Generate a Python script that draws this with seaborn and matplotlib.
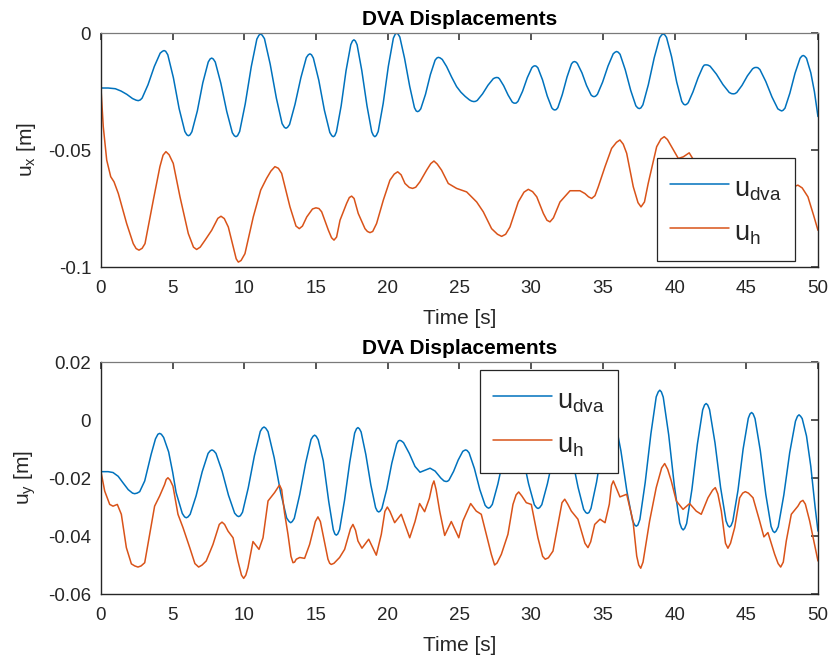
import numpy as np
import pandas as pd
import matplotlib
matplotlib.use("Agg")
import matplotlib.pyplot as plt
import seaborn as sns

# ---------------- data: (time [s], displacement [m]) ----------------
dva_x = [(0.00, -0.0235), (0.50, -0.0235), (1.00, -0.0238), (1.40, -0.0248), (1.80, -0.0262),
         (2.20, -0.0280), (2.45, -0.0287), (2.60, -0.0289), (2.74, -0.0286), (2.87, -0.0278),
         (3.28, -0.0221), (3.72, -0.0143), (4.13, -0.0086), (4.29, -0.0078), (4.40, -0.0075),
         (4.51, -0.0078), (4.66, -0.0093), (5.05, -0.0191), (5.45, -0.0323), (5.85, -0.0421),
         (5.99, -0.0435), (6.10, -0.0439), (6.21, -0.0435), (6.34, -0.0422), (6.72, -0.0333),
         (7.10, -0.0213), (7.48, -0.0124), (7.61, -0.0111), (7.72, -0.0107), (7.83, -0.0111),
         (7.97, -0.0124), (8.36, -0.0215), (8.77, -0.0335), (9.16, -0.0426), (9.30, -0.0439),
         (9.41, -0.0443), (9.52, -0.0439), (9.67, -0.0421), (10.06, -0.0303), (10.48, -0.0144),
         (10.87, -0.0026), (11.02, -0.0009), (11.13, -0.0004), (11.24, -0.0009), (11.40, -0.0024),
         (11.80, -0.0133), (12.23, -0.0278), (12.63, -0.0387), (12.79, -0.0403), (12.90, -0.0407),
         (13.01, -0.0403), (13.15, -0.0391), (13.53, -0.0305), (13.94, -0.0191), (14.32, -0.0105),
         (14.46, -0.0093), (14.57, -0.0089), (14.68, -0.0093), (14.81, -0.0107), (15.19, -0.0202),
         (15.58, -0.0330), (15.96, -0.0425), (16.10, -0.0439), (16.20, -0.0443), (16.30, -0.0439),
         (16.42, -0.0422), (16.75, -0.0311), (17.09, -0.0161), (17.42, -0.0050), (17.54, -0.0034),
         (17.64, -0.0029), (17.74, -0.0034), (17.86, -0.0050), (18.19, -0.0161), (18.55, -0.0311),
         (18.88, -0.0422), (19.00, -0.0438), (19.10, -0.0443), (19.20, -0.0438), (19.33, -0.0421),
         (19.68, -0.0301), (20.04, -0.0142), (20.39, -0.0022), (20.52, -0.0005), (20.62, 0.0000),
         (20.72, -0.0005), (20.84, -0.0017), (21.17, -0.0108), (21.53, -0.0228), (21.86, -0.0319),
         (21.98, -0.0333), (22.08, -0.0336), (22.18, -0.0333), (22.30, -0.0324), (22.63, -0.0262),
         (22.97, -0.0178), (23.30, -0.0116), (23.42, -0.0107), (23.52, -0.0104), (23.64, -0.0106),
         (23.80, -0.0113), (24.10, -0.0143), (24.45, -0.0188), (24.80, -0.0229), (25.10, -0.0253),
         (25.40, -0.0271), (25.70, -0.0286), (25.85, -0.0291), (26.00, -0.0293), (26.12, -0.0292),
         (26.24, -0.0288), (26.61, -0.0260), (26.99, -0.0223), (27.36, -0.0195), (27.50, -0.0191),
         (27.60, -0.0190), (27.70, -0.0191), (27.79, -0.0196), (28.08, -0.0225), (28.39, -0.0265),
         (28.68, -0.0295), (28.78, -0.0299), (28.87, -0.0300), (28.96, -0.0299), (29.08, -0.0292),
         (29.40, -0.0249), (29.73, -0.0191), (30.05, -0.0148), (30.16, -0.0142), (30.26, -0.0140),
         (30.36, -0.0142), (30.47, -0.0149), (30.79, -0.0200), (31.12, -0.0269), (31.44, -0.0320),
         (31.55, -0.0327), (31.65, -0.0329), (31.75, -0.0327), (31.86, -0.0319), (32.17, -0.0263),
         (32.50, -0.0188), (32.81, -0.0132), (32.92, -0.0124), (33.02, -0.0122), (33.12, -0.0124),
         (33.22, -0.0130), (33.54, -0.0170), (33.86, -0.0224), (34.18, -0.0265), (34.28, -0.0270),
         (34.38, -0.0272), (34.49, -0.0270), (34.62, -0.0262), (34.98, -0.0210), (35.36, -0.0141),
         (35.72, -0.0089), (35.85, -0.0082), (35.96, -0.0079), (36.07, -0.0082), (36.20, -0.0091),
         (36.56, -0.0157), (36.94, -0.0245), (37.30, -0.0311), (37.43, -0.0320), (37.54, -0.0323),
         (37.65, -0.0320), (37.79, -0.0307), (38.17, -0.0221), (38.58, -0.0106), (38.96, -0.0020),
         (39.10, -0.0008), (39.21, -0.0004), (39.32, -0.0008), (39.44, -0.0019), (39.79, -0.0101),
         (40.15, -0.0210), (40.50, -0.0292), (40.63, -0.0304), (40.73, -0.0307), (40.83, -0.0305),
         (40.95, -0.0298), (41.28, -0.0252), (41.64, -0.0191), (41.97, -0.0145), (42.07, -0.0137),
         (42.19, -0.0136), (42.32, -0.0137), (42.48, -0.0142), (42.92, -0.0176), (43.37, -0.0220),
         (43.81, -0.0254), (43.97, -0.0259), (44.10, -0.0260), (44.21, -0.0259), (44.34, -0.0254),
         (44.70, -0.0224), (45.08, -0.0183), (45.44, -0.0153), (45.57, -0.0148), (45.68, -0.0147),
         (45.80, -0.0148), (45.95, -0.0156), (46.36, -0.0207), (46.79, -0.0273), (47.20, -0.0324),
         (47.36, -0.0330), (47.47, -0.0333), (47.57, -0.0330), (47.70, -0.0321), (48.04, -0.0257),
         (48.40, -0.0172), (48.75, -0.0108), (48.87, -0.0099), (48.97, -0.0096), (49.07, -0.0099),
         (49.20, -0.0108), (49.50, -0.0170), (49.75, -0.0250), (50.00, -0.0357)]

h_x = [(0.00, -0.0236), (0.16, -0.0400), (0.40, -0.0543), (0.68, -0.0614), (0.91, -0.0636),
       (1.21, -0.0686), (1.79, -0.0814), (2.25, -0.0900), (2.45, -0.0921), (2.65, -0.0928),
       (2.87, -0.0920), (3.07, -0.0900), (3.65, -0.0714), (4.11, -0.0571), (4.33, -0.0522),
       (4.53, -0.0507), (4.75, -0.0520), (5.04, -0.0557), (5.51, -0.0700), (6.09, -0.0857),
       (6.45, -0.0915), (6.67, -0.0925), (6.92, -0.0915), (7.25, -0.0886), (7.72, -0.0843),
       (8.15, -0.0792), (8.37, -0.0783), (8.60, -0.0793), (8.88, -0.0829), (9.28, -0.0928),
       (9.43, -0.0965), (9.58, -0.0979), (9.77, -0.0972), (10.04, -0.0943), (10.62, -0.0786),
       (11.14, -0.0671), (11.55, -0.0621), (11.85, -0.0590), (12.13, -0.0571), (12.37, -0.0578),
       (12.60, -0.0600), (13.18, -0.0743), (13.60, -0.0825), (13.83, -0.0836), (14.05, -0.0825),
       (14.35, -0.0786), (14.75, -0.0752), (14.99, -0.0747), (15.20, -0.0750), (15.39, -0.0764),
       (15.86, -0.0843), (16.08, -0.0875), (16.25, -0.0885), (16.43, -0.0872), (16.67, -0.0800),
       (17.13, -0.0728), (17.32, -0.0703), (17.48, -0.0697), (17.65, -0.0707), (17.94, -0.0771),
       (18.41, -0.0836), (18.58, -0.0848), (18.76, -0.0853), (18.95, -0.0848), (19.22, -0.0814),
       (19.69, -0.0714), (20.15, -0.0629), (20.45, -0.0603), (20.69, -0.0593), (20.93, -0.0606),
       (21.20, -0.0643), (21.50, -0.0660), (21.73, -0.0664), (21.95, -0.0659), (22.24, -0.0636),
       (22.71, -0.0586), (23.00, -0.0558), (23.22, -0.0547), (23.45, -0.0560), (23.75, -0.0586),
       (24.22, -0.0643), (24.80, -0.0664), (25.50, -0.0679), (26.20, -0.0722), (26.66, -0.0764),
       (27.24, -0.0836), (27.65, -0.0860), (27.94, -0.0869), (28.22, -0.0860), (28.52, -0.0829),
       (29.10, -0.0722), (29.50, -0.0680), (29.80, -0.0668), (30.10, -0.0678), (30.39, -0.0700),
       (30.85, -0.0771), (31.10, -0.0800), (31.31, -0.0807), (31.55, -0.0790), (32.01, -0.0722),
       (32.71, -0.0674), (33.40, -0.0674), (33.75, -0.0686), (34.00, -0.0700), (34.22, -0.0707),
       (34.45, -0.0695), (34.68, -0.0657), (35.15, -0.0571), (35.61, -0.0493), (35.95, -0.0467),
       (36.19, -0.0457), (36.42, -0.0475), (36.66, -0.0514), (37.12, -0.0657), (37.45, -0.0725),
       (37.66, -0.0743), (37.90, -0.0722), (38.16, -0.0643), (38.75, -0.0486), (39.05, -0.0453),
       (39.28, -0.0443), (39.50, -0.0455), (39.79, -0.0486), (40.26, -0.0536), (40.61, -0.0529),
       (41.02, -0.0512), (41.50, -0.0560), (42.30, -0.0650), (43.20, -0.0720), (44.20, -0.0660),
       (45.20, -0.0700), (46.30, -0.0780), (47.30, -0.0720), (48.00, -0.0665), (48.60, -0.0650),
       (48.90, -0.0662), (49.30, -0.0700), (49.70, -0.0780), (50.00, -0.0843)]

dva_y = [(0.00, -0.0178), (0.50, -0.0178), (0.84, -0.0181), (1.20, -0.0194), (1.53, -0.0216),
         (1.90, -0.0240), (2.20, -0.0252), (2.35, -0.0254), (2.52, -0.0252), (2.70, -0.0247),
         (3.05, -0.0210), (3.50, -0.0118), (3.80, -0.0065), (3.97, -0.0049), (4.09, -0.0046),
         (4.21, -0.0049), (4.37, -0.0060), (4.72, -0.0110), (5.00, -0.0180), (5.24, -0.0250),
         (5.67, -0.0322), (5.83, -0.0334), (5.95, -0.0337), (6.07, -0.0334), (6.22, -0.0325),
         (6.63, -0.0262), (7.06, -0.0178), (7.47, -0.0115), (7.62, -0.0106), (7.74, -0.0103),
         (7.86, -0.0106), (8.02, -0.0115), (8.45, -0.0177), (8.89, -0.0259), (9.32, -0.0321),
         (9.48, -0.0330), (9.60, -0.0333), (9.72, -0.0330), (9.87, -0.0318), (10.27, -0.0234),
         (10.70, -0.0123), (11.11, -0.0039), (11.25, -0.0028), (11.37, -0.0024), (11.49, -0.0028),
         (11.65, -0.0040), (12.08, -0.0130), (12.52, -0.0248), (12.95, -0.0338), (13.12, -0.0350),
         (13.23, -0.0354), (13.34, -0.0350), (13.48, -0.0339), (13.86, -0.0257), (14.27, -0.0149),
         (14.65, -0.0067), (14.79, -0.0056), (14.90, -0.0052), (15.01, -0.0056), (15.15, -0.0068),
         (15.50, -0.0140), (15.88, -0.0280), (16.20, -0.0378), (16.31, -0.0393), (16.41, -0.0397),
         (16.51, -0.0393), (16.64, -0.0378), (16.98, -0.0278), (17.35, -0.0145), (17.69, -0.0045),
         (17.82, -0.0030), (17.92, -0.0026), (18.02, -0.0030), (18.14, -0.0041), (18.47, -0.0119),
         (18.82, -0.0224), (19.15, -0.0302), (19.27, -0.0314), (19.37, -0.0317), (19.47, -0.0314),
         (19.59, -0.0305), (19.93, -0.0238), (20.28, -0.0149), (20.62, -0.0082), (20.74, -0.0072),
         (20.84, -0.0070), (20.95, -0.0072), (21.10, -0.0078), (21.50, -0.0115), (21.90, -0.0160),
         (22.25, -0.0180), (22.60, -0.0173), (22.95, -0.0166), (23.30, -0.0176), (23.70, -0.0200),
         (23.92, -0.0210), (24.07, -0.0212), (24.17, -0.0211), (24.27, -0.0207), (24.59, -0.0177),
         (24.91, -0.0138), (25.23, -0.0108), (25.33, -0.0105), (25.43, -0.0103), (25.53, -0.0105),
         (25.67, -0.0113), (26.04, -0.0167), (26.42, -0.0240), (26.79, -0.0294), (26.92, -0.0301),
         (27.03, -0.0304), (27.14, -0.0301), (27.29, -0.0291), (27.68, -0.0220), (28.10, -0.0124),
         (28.49, -0.0053), (28.75, -0.0040), (29.01, -0.0053), (29.41, -0.0125), (29.82, -0.0220),
         (30.22, -0.0292), (30.37, -0.0302), (30.48, -0.0305), (30.59, -0.0302), (30.74, -0.0292),
         (31.13, -0.0220), (31.55, -0.0125), (31.94, -0.0053), (32.20, -0.0040), (32.46, -0.0054),
         (32.85, -0.0130), (33.27, -0.0232), (33.66, -0.0308), (33.81, -0.0319), (33.92, -0.0322),
         (34.03, -0.0319), (34.17, -0.0305), (34.56, -0.0214), (34.96, -0.0093), (35.35, -0.0004),
         (35.60, 0.0015), (35.86, -0.0004), (36.26, -0.0107), (36.67, -0.0244), (37.07, -0.0347),
         (37.22, -0.0362), (37.33, -0.0366), (37.44, -0.0362), (37.58, -0.0343), (37.95, -0.0216),
         (38.35, -0.0047), (38.72, 0.0080), (38.86, 0.0097), (38.97, 0.0103), (39.08, 0.0097),
         (39.21, 0.0079), (39.59, -0.0051), (39.98, -0.0225), (40.36, -0.0355), (40.49, -0.0373),
         (40.60, -0.0379), (40.71, -0.0373), (40.84, -0.0357), (41.21, -0.0239), (41.59, -0.0083),
         (41.96, 0.0035), (42.09, 0.0052), (42.20, 0.0057), (42.31, 0.0052), (42.44, 0.0036),
         (42.82, -0.0079), (43.21, -0.0233), (43.59, -0.0348), (43.72, -0.0364), (43.83, -0.0369),
         (43.94, -0.0364), (44.06, -0.0349), (44.42, -0.0243), (44.78, -0.0100), (45.14, 0.0006),
         (45.26, 0.0021), (45.37, 0.0026), (45.48, 0.0021), (45.61, 0.0005), (45.98, -0.0106),
         (46.36, -0.0256), (46.73, -0.0367), (46.86, -0.0383), (46.97, -0.0388), (47.08, -0.0383),
         (47.23, -0.0368), (47.62, -0.0258), (48.03, -0.0112), (48.43, -0.0004), (48.57, 0.0013),
         (48.68, 0.0018), (48.79, 0.0013), (48.90, 0.0005), (49.20, -0.0055), (49.50, -0.0160),
         (49.80, -0.0300), (50.00, -0.0383)]

h_y = [(0.00, -0.0178), (0.26, -0.0245), (0.61, -0.0291), (0.84, -0.0297), (1.14, -0.0291),
       (1.42, -0.0325), (1.77, -0.0440), (2.12, -0.0496), (2.35, -0.0503), (2.58, -0.0507),
       (2.80, -0.0503), (3.05, -0.0492), (3.40, -0.0394), (3.74, -0.0297), (4.09, -0.0262),
       (4.44, -0.0222), (4.55, -0.0205), (4.67, -0.0199), (4.82, -0.0207), (5.02, -0.0228),
       (5.37, -0.0325), (5.72, -0.0371), (6.19, -0.0440), (6.55, -0.0495), (6.81, -0.0507),
       (7.05, -0.0500), (7.34, -0.0486), (7.81, -0.0429), (8.25, -0.0360), (8.44, -0.0352),
       (8.62, -0.0360), (8.86, -0.0383), (9.21, -0.0406), (9.55, -0.0486), (9.80, -0.0535),
       (9.95, -0.0546), (10.10, -0.0535), (10.25, -0.0509), (10.60, -0.0419), (11.02, -0.0446),
       (11.30, -0.0406), (11.65, -0.0279), (12.11, -0.0250), (12.45, -0.0224), (12.60, -0.0240),
       (12.80, -0.0320), (13.04, -0.0394), (13.25, -0.0470), (13.39, -0.0492), (13.50, -0.0490),
       (13.62, -0.0480), (13.86, -0.0474), (14.20, -0.0477), (14.55, -0.0429), (14.95, -0.0350),
       (15.13, -0.0334), (15.30, -0.0350), (15.48, -0.0394), (15.83, -0.0480), (15.95, -0.0494),
       (16.06, -0.0498), (16.25, -0.0494), (16.64, -0.0474), (16.99, -0.0446), (17.40, -0.0375),
       (17.57, -0.0360), (17.75, -0.0380), (17.92, -0.0417), (18.20, -0.0442), (18.67, -0.0411),
       (19.20, -0.0466), (19.55, -0.0394), (19.80, -0.0315), (19.97, -0.0300), (20.15, -0.0315),
       (20.48, -0.0354), (20.94, -0.0325), (21.53, -0.0406), (21.90, -0.0350), (22.22, -0.0288),
       (22.57, -0.0316), (22.90, -0.0270), (23.10, -0.0225), (23.22, -0.0210), (23.37, -0.0240),
       (23.62, -0.0314), (23.97, -0.0398), (24.43, -0.0350), (24.95, -0.0406), (25.24, -0.0348),
       (25.78, -0.0288), (26.17, -0.0314), (26.52, -0.0325), (26.87, -0.0394), (27.22, -0.0463),
       (27.45, -0.0500), (27.62, -0.0493), (27.92, -0.0463), (28.38, -0.0394), (28.73, -0.0291),
       (28.95, -0.0258), (29.13, -0.0248), (29.35, -0.0262), (29.66, -0.0285), (30.01, -0.0291),
       (30.47, -0.0406), (30.80, -0.0470), (30.98, -0.0480), (31.20, -0.0475), (31.52, -0.0452),
       (31.87, -0.0360), (32.15, -0.0285), (32.34, -0.0273), (32.55, -0.0290), (32.80, -0.0314),
       (33.26, -0.0342), (33.75, -0.0425), (33.96, -0.0440), (34.15, -0.0420), (34.43, -0.0360),
       (34.80, -0.0342), (35.15, -0.0354), (35.45, -0.0290), (35.60, -0.0225), (35.73, -0.0210),
       (35.90, -0.0230), (36.19, -0.0265), (36.66, -0.0256), (37.10, -0.0348), (37.36, -0.0469),
       (37.50, -0.0500), (37.64, -0.0511), (37.80, -0.0490), (38.26, -0.0348), (38.72, -0.0233),
       (39.10, -0.0165), (39.31, -0.0150), (39.52, -0.0170), (39.77, -0.0210), (40.12, -0.0279),
       (40.59, -0.0308), (41.05, -0.0288), (41.51, -0.0314), (41.86, -0.0325), (42.33, -0.0268),
       (42.65, -0.0242), (42.84, -0.0233), (43.02, -0.0255), (43.26, -0.0314), (43.55, -0.0425),
       (43.72, -0.0442), (43.90, -0.0425), (44.19, -0.0371), (44.54, -0.0268), (44.75, -0.0252),
       (44.93, -0.0247), (45.15, -0.0252), (45.47, -0.0268), (45.93, -0.0348), (46.23, -0.0403),
       (46.51, -0.0388), (46.98, -0.0463), (47.22, -0.0495), (47.40, -0.0507), (47.58, -0.0490),
       (47.79, -0.0417), (48.14, -0.0325), (48.60, -0.0297), (48.78, -0.0282), (48.95, -0.0277),
       (49.12, -0.0290), (49.42, -0.0348), (50.00, -0.0486)]

x_ticks = [0, 5, 10, 15, 20, 25, 30, 35, 40, 45, 50]
x_tick_labels = ["0", "5", "10", "15", "20", "25", "30", "35", "40", "45", "50"]
yx_ticks = [-0.1, -0.05, 0.0]
yx_tick_labels = ["-0.1", "-0.05", "0"]
yy_ticks = [-0.06, -0.04, -0.02, 0.0, 0.02]
yy_tick_labels = ["-0.06", "-0.04", "-0.02", "0", "0.02"]

title_text = "DVA Displacements"
xlabel_text = "Time [s]"
legend_labels = [r"u$_{\mathregular{dva}}$", r"u$_{\mathregular{h}}$"]

# ---------------- style ----------------
sns.set_theme(style="white")
plt.rcParams["font.family"] = ["Liberation Sans", "DejaVu Sans"]
plt.rcParams["mathtext.fontset"] = "custom"
plt.rcParams["mathtext.rm"] = "Liberation Sans"
plt.rcParams["mathtext.it"] = "Liberation Sans"
plt.rcParams["axes.unicode_minus"] = False

BLUE = "#0072BD"
ORANGE = "#D95319"
AXC = "#262626"

fig = plt.figure(figsize=(8.29, 6.59), dpi=100)
ax1 = fig.add_axes([0.1218, 0.5948, 0.8649, 0.3551])
ax2 = fig.add_axes([0.1218, 0.0986, 0.8649, 0.3520])


def frame(pairs):
    return pd.DataFrame(pairs, columns=["t", "u"])


def draw(ax, series_a, series_b):
    sns.lineplot(data=frame(series_a), x="t", y="u", ax=ax, color=BLUE, lw=1.1,
                 sort=False, estimator=None, label=legend_labels[0])
    sns.lineplot(data=frame(series_b), x="t", y="u", ax=ax, color=ORANGE, lw=1.1,
                 sort=False, estimator=None, label=legend_labels[1])


def style(ax, yticks, ylabels, ylabel, leg_anchor):
    ax.set_xlim(0, 50)
    ax.set_xticks(x_ticks)
    ax.set_xticklabels(x_tick_labels)
    ax.set_yticks(yticks)
    ax.set_yticklabels(ylabels)
    ax.set_ylim(yticks[0], yticks[-1])
    ax.tick_params(direction="in", length=5, width=1.1, colors=AXC, labelsize=13.5,
                   top=True, right=True, pad=7)
    ax.tick_params(axis="x", pad=9)
    for side in ["left", "bottom", "right"]:
        ax.spines[side].set_color(AXC)
        ax.spines[side].set_linewidth(1.0)
    ax.spines["top"].set_color("#7a7a7a")
    ax.spines["top"].set_linewidth(0.9)
    ax.set_xlabel(xlabel_text, fontsize=15, color=AXC, labelpad=9)
    ax.set_ylabel(ylabel, fontsize=15, color=AXC, labelpad=7)
    ax.set_title(title_text, fontsize=15, fontweight="bold", color="black", pad=6)
    leg = ax.legend(loc="upper left", bbox_to_anchor=leg_anchor, fontsize=19.5,
                    frameon=True, fancybox=False, shadow=False, framealpha=1.0,
                    edgecolor=AXC, handlelength=2.2, handletextpad=0.18,
                    handleheight=1.48, borderpad=0.48, labelspacing=0.42,
                    borderaxespad=0.0)
    leg.get_frame().set_linewidth(0.9)
    leg.set_zorder(5)


draw(ax1, dva_x, h_x)
style(ax1, yx_ticks, yx_tick_labels, r"$\mathregular{u_x}$ [m]", (0.775, 0.466))

draw(ax2, dva_y, h_y)
style(ax2, yy_ticks, yy_tick_labels, r"$\mathregular{u_y}$ [m]", (0.528, 0.966))

fig.savefig("out.png", dpi=100)
